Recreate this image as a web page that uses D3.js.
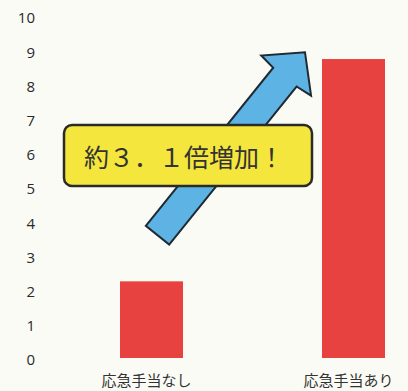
<!DOCTYPE html>
<html lang="ja">
<head>
<meta charset="UTF-8">
<title>応急手当の有無</title>
<script src="https://d3js.org/d3.v7.min.js"></script>
<style>
  body { margin: 0; background: #fbfbf6; }
  svg { display: block; }
</style>
</head>
<body>
<div id="chart"></div>
<script>
const categories = ["応急手当なし", "応急手当あり"];
const values = [2.3, 8.8];
const yTicks = [0, 1, 2, 3, 4, 5, 6, 7, 8, 9, 10];
const calloutText = "約３．１倍増加！";

const width = 408, height = 391;

const svg = d3.select("#chart").append("svg")
    .attr("width", width)
    .attr("height", height);

svg.append("rect")
    .attr("width", width).attr("height", height)
    .attr("fill", "#fbfbf6");

const y = d3.scaleLinear().domain([0, 10]).range([360, 18]);

const x = d3.scaleBand()
    .domain(categories)
    .range([49.3, 455.7])
    .paddingInner(0.688)
    .paddingOuter(0.35);

// y tick labels, no axis line
const yAxis = d3.axisLeft(y).tickValues(yTicks).tickSize(0).tickPadding(0);
svg.append("g")
    .attr("transform", "translate(35,0)")
    .call(yAxis)
    .call(g => g.select(".domain").remove())
    .selectAll("text")
    .attr("fill", "#2a2a2a")
    .style("font-family", "'Open Sans', sans-serif")
    .style("font-size", "15px");

// bars
svg.selectAll("rect.bar")
    .data(values)
    .enter()
    .append("rect")
    .attr("class", "bar")
    .attr("x", (d, i) => x(categories[i]))
    .attr("y", d => y(d))
    .attr("width", x.bandwidth())
    .attr("height", d => y(0) - y(d) - 2)
    .attr("fill", "#e7423f");

// category labels
svg.selectAll("text.cat")
    .data(categories)
    .enter()
    .append("text")
    .attr("class", "cat")
    .attr("x", d => x(d) + x.bandwidth() / 2 - 5)
    .attr("y", 386)
    .attr("text-anchor", "middle")
    .attr("fill", "#333")
    .style("font-family", "'Noto Sans CJK JP', sans-serif")
    .style("font-size", "15px")
    .text(d => d);

// arrow from the low bar toward the high bar
const x0 = x(categories[0]) + x.bandwidth() / 2 + 6, y0 = y(3.65);
const x1 = x(categories[1]) - 17, y1 = y(9.0);
const ang = Math.atan2(y1 - y0, x1 - x0);
const len = Math.hypot(x1 - x0, y1 - y0);
const sw = 15, hw = 32, hl = 32;
const arrowPts = [
  [0, -sw], [len - hl, -sw], [len - hl + 2, -hw], [len, 0],
  [len - hl + 2, hw], [len - hl, sw], [0, sw]
];
svg.append("polygon")
    .attr("points", arrowPts.map(p => p.join(",")).join(" "))
    .attr("transform", `translate(${x0},${y0}) rotate(${ang * 180 / Math.PI})`)
    .attr("fill", "#5db3e4")
    .attr("stroke", "#1f2a33")
    .attr("stroke-width", 2)
    .attr("stroke-linejoin", "miter");

// callout box
const box = svg.append("g");
box.append("rect")
    .attr("x", 64).attr("y", 125)
    .attr("width", 248).attr("height", 61)
    .attr("rx", 8)
    .attr("fill", "#f4e63c")
    .attr("stroke", "#2a2a2a")
    .attr("stroke-width", 2.5);
box.append("text")
    .attr("x", 184).attr("y", 156)
    .attr("text-anchor", "middle")
    .attr("dominant-baseline", "central")
    .attr("fill", "#333")
    .style("font-family", "'Noto Sans CJK JP', sans-serif")
    .style("font-size", "25px")
    .text(calloutText);
</script>
</body>
</html>
